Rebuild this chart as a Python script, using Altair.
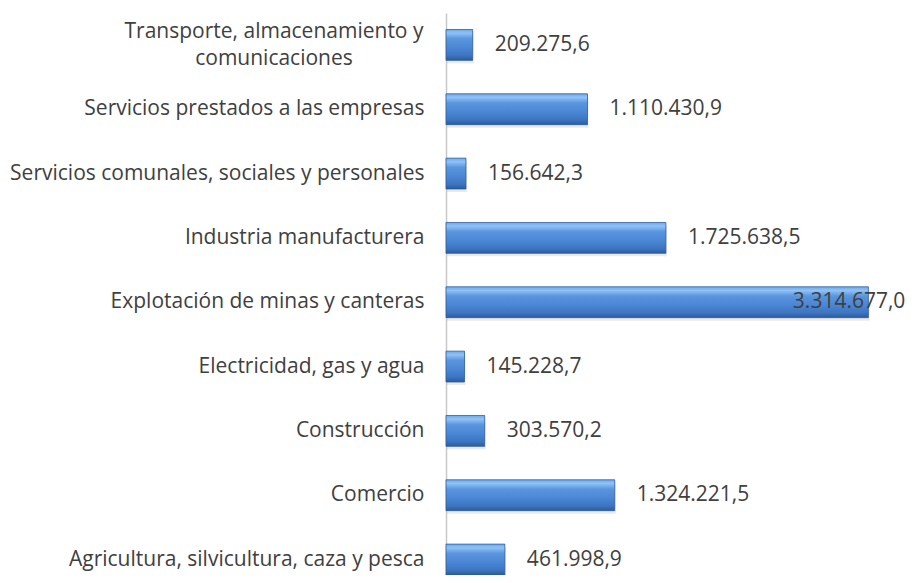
import altair as alt
import pandas as pd

categories = [
    "Transporte, almacenamiento y comunicaciones",
    "Servicios prestados a las empresas",
    "Servicios comunales, sociales y personales",
    "Industria manufacturera",
    "Explotación de minas y canteras",
    "Electricidad, gas y agua",
    "Construcción",
    "Comercio",
    "Agricultura, silvicultura, caza y pesca",
]
values = [209275.6, 1110430.9, 156642.3, 1725638.5, 3314677.0, 145228.7, 303570.2, 1324221.5, 461998.9]
value_labels = ["209.275,6", "1.110.430,9", "156.642,3", "1.725.638,5", "3.314.677,0",
                "145.228,7", "303.570,2", "1.324.221,5", "461.998,9"]

df = pd.DataFrame({"cat": categories, "value": values, "lbl": value_labels})
MULTI = "Transporte, almacenamiento y comunicaciones"
BIG = "Explotación de minas y canteras"

FONT = "Open Sans"
FS = 21
TXT = "#404040"

y_scale = alt.Scale(paddingInner=0.52, paddingOuter=0.128, align=1)
y_enc = alt.Y(
    "cat:N", sort=categories, title=None, scale=y_scale,
    axis=alt.Axis(
        domain=True, domainColor="#c8c8c8", domainWidth=1.5, ticks=False,
        labelFont=FONT, labelFontSize=FS, labelColor=TXT, labelPadding=22,
        labelLimit=500,
        labelExpr=f"datum.label == '{MULTI}' ? '' : datum.label",
    ),
)
y_plain = alt.Y("cat:N", sort=categories, scale=y_scale)
x_enc = alt.X("value:Q", scale=alt.Scale(domain=[0, 3500000]), axis=None, title=None)

base = alt.Chart(df)

shadow = base.mark_bar(color="#8a8a8a", opacity=0.18, yOffset=3, xOffset=1).encode(x=x_enc, y=y_enc)

grad = alt.Gradient(
    gradient="linear", x1=0, x2=0, y1=0, y2=1,
    stops=[
        alt.GradientStop(color="#6ea9ec", offset=0),
        alt.GradientStop(color="#8fc2f6", offset=0.12),
        alt.GradientStop(color="#5a95de", offset=0.3),
        alt.GradientStop(color="#4a86d4", offset=0.6),
        alt.GradientStop(color="#3c74c0", offset=0.85),
        alt.GradientStop(color="#2c5a98", offset=1),
    ],
)
bars = base.mark_bar(color=grad, stroke="#2f5e9c", strokeWidth=0.8).encode(x=x_enc, y=y_enc)

labels = base.transform_filter(f"datum.cat != '{BIG}'").mark_text(
    align="left", baseline="middle", dx=22, font=FONT, fontSize=FS, color=TXT
).encode(x="value:Q", y=y_plain, text="lbl:N")

big_label = base.transform_filter(f"datum.cat == '{BIG}'").mark_text(
    align="right", baseline="middle", dx=37, font=FONT, fontSize=FS, color=TXT
).encode(x="value:Q", y=y_plain, text="lbl:N")

multi = base.transform_filter(f"datum.cat == '{MULTI}'").transform_calculate(
    t="'Transporte, almacenamiento y\\ncomunicaciones'"
).mark_text(
    align="center", baseline="middle", dx=-172, dy=-13, lineBreak="\n", lineHeight=27,
    font=FONT, fontSize=FS, color=TXT
).encode(x=alt.value(0), y=y_plain, text="t:N")

chart = alt.layer(shadow, bars, labels, big_label, multi).properties(
    width=446, height=562,
    autosize=alt.AutoSizeParams(type="none"),
    padding={"left": 438, "top": 5, "right": 14, "bottom": 0},
).configure(background="white").configure_view(strokeWidth=0, stroke=None)

chart.save("out.html", embed_options={"renderer": "svg", "actions": False})
